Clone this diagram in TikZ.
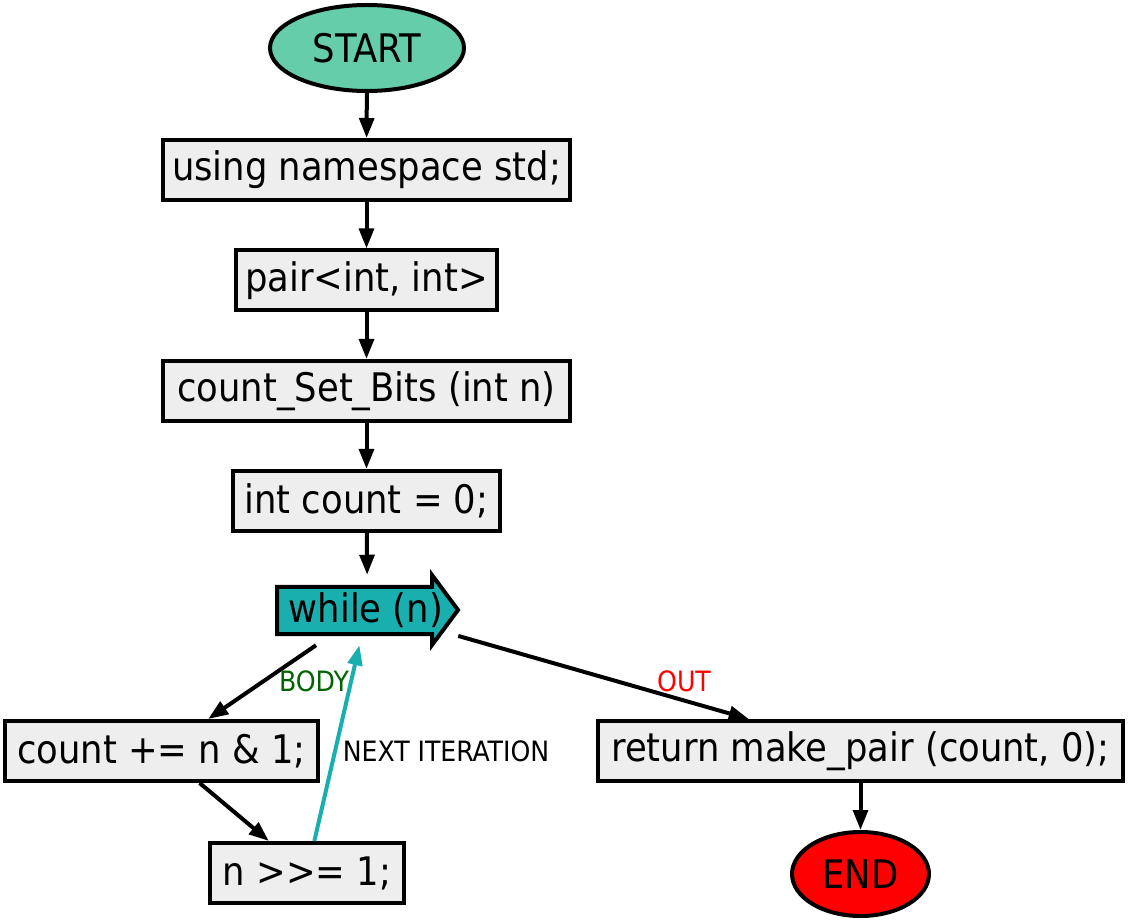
\documentclass[tikz,border=0pt]{standalone}
\usepackage{fontspec}
\setmainfont{DejaVu Sans Condensed}
\usetikzlibrary{shapes.geometric,arrows.meta,calc}
\definecolor{startc}{HTML}{66CDAA}
\definecolor{whilec}{HTML}{1AAFAF}
\definecolor{boxc}{HTML}{EEEEEE}
\definecolor{bodyc}{HTML}{006400}
\begin{document}
\begin{tikzpicture}[x=0.75pt,y=-0.75pt,
  every node/.style={inner sep=0pt,font=\fontsize{29.5}{35}\selectfont},
  stmt/.style={draw,line width=3pt,fill=boxc,minimum height=45pt},
  term/.style={ellipse,draw,line width=3pt},
  conn/.style={line width=3pt,-{Triangle[length=15pt,width=11pt]}},
  lbl/.style={font=\fontsize{21}{25}\selectfont}]
\useasboundingbox (0,0) rectangle (1129,923);
\node[term,fill=startc,minimum width=145.5pt,minimum height=64.5pt] (start) at (367,48) {START};
\node[stmt,minimum width=305.25pt] (ns) at (366.5,170) {using namespace std;};
\node[stmt,minimum width=195.75pt] (pair) at (366.5,280.5) {pair<int, int>};
\node[stmt,minimum width=305.25pt] (func) at (366.5,391) {count\_Set\_Bits (int n)};
\node[stmt,minimum width=200.25pt] (cnt) at (366.5,501) {int count = 0;};
\node[minimum width=135.75pt,minimum height=52.5pt] (while) at (367.5,610) {};
\draw[line width=3pt,fill=whilec,line join=miter]
  ($(while.center)+(-90.5,-23)$) -- ($(while.center)+(64.5,-23)$) -- ($(while.center)+(64.5,-35)$)
  -- ($(while.center)+(90.5,0)$) -- ($(while.center)+(64.5,35)$) -- ($(while.center)+(64.5,24)$)
  -- ($(while.center)+(-90.5,24)$) -- cycle;
\node (whilet) at (366,610) {while (n)};
\node[stmt,minimum width=234.75pt] (add) at (161.5,751) {count += n \& 1;};
\node[stmt,minimum width=145.5pt] (shift) at (307,873) {n >{}>= 1;};
\node[stmt,minimum width=393.75pt] (ret) at (860.5,751) {return make\_pair (count, 0);};
\node[term,fill=red,minimum width=102.75pt,minimum height=63pt] (end) at (860.5,874) {END};
\draw[conn] (start) -- (ns);
\draw[conn] (ns) -- (pair);
\draw[conn] (pair) -- (func);
\draw[conn] (func) -- (cnt);
\draw[conn] (cnt) -- (while);
\draw[conn] (while) -- (add);
\draw[conn] (add) -- (shift);
\draw[conn,whilec] (shift) -- (while);
\draw[conn] (while) -- (ret);
\draw[conn] (ret) -- (end);
\node[lbl,text=bodyc] (lbody) at (314,681) {BODY};
\node[lbl,text=red] (lout) at (684,681) {OUT};
\node[lbl] (lnext) at (446,751) {NEXT ITERATION};
\end{tikzpicture}
\end{document}
